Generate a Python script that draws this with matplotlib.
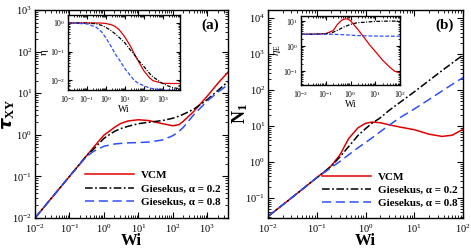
import numpy as np
import matplotlib
matplotlib.use("Agg")
import matplotlib.pyplot as plt
from matplotlib.ticker import LogLocator, NullFormatter

plt.rcParams["font.family"] = ["Liberation Serif", "DejaVu Serif"]
plt.rcParams["mathtext.fontset"] = "custom"
plt.rcParams["mathtext.rm"] = "Liberation Serif"
plt.rcParams["mathtext.it"] = "Liberation Serif:italic"
plt.rcParams["mathtext.bf"] = "Liberation Serif:bold"

# panel (a): shear stress
wi_a = [0.01, 0.1, 0.3, 0.5, 1, 1.5, 2, 3, 5, 10, 20, 50, 100, 150, 200, 400, 1000, 2000, 4000]
tau_vcm = [0.01, 0.1, 0.3, 0.5, 0.98, 1.25, 1.5, 1.85, 2.15, 2.3, 2.2, 1.85, 1.65, 1.75, 2.1, 3.6, 8.5, 17, 32]
tau_g02 = [0.01, 0.1, 0.3, 0.45, 0.82, 1.03, 1.2, 1.4, 1.6, 1.85, 2.0, 2.2, 2.5, 2.8, 3.1, 4.1, 7, 11.5, 19]
tau_g08 = [0.01, 0.1, 0.29, 0.4, 0.53, 0.57, 0.6, 0.62, 0.64, 0.65, 0.67, 0.75, 0.95, 1.2, 1.5, 3.0, 6.5, 10.5, 16]

# inset (a): shear viscosity
wi_ia = [0.01, 0.1, 0.3, 0.6, 1, 2, 3, 5, 10, 20, 30, 50, 100, 200, 300, 1000, 3000, 8000]
eta_vcm = [1, 1, 1, 0.99, 0.96, 0.86, 0.76, 0.58, 0.32, 0.15, 0.088, 0.047, 0.021, 0.012, 0.0095, 0.0077, 0.0076, 0.0076]
eta_g02 = [1, 0.99, 0.94, 0.82, 0.7, 0.52, 0.42, 0.31, 0.2, 0.11, 0.08, 0.05, 0.03, 0.017, 0.013, 0.0075, 0.0055, 0.005]
eta_g08 = [1, 0.93, 0.72, 0.48, 0.3, 0.14, 0.085, 0.052, 0.025, 0.014, 0.01, 0.0078, 0.0063, 0.0053, 0.005, 0.0045, 0.0044, 0.0044]

# panel (b): first normal stress difference
wi_b = [0.01, 0.03, 0.1, 0.15, 0.2, 0.3, 0.45, 0.7, 1, 1.35, 2, 3, 5, 10, 20, 37, 60, 100]
n1_vcm = [0.031, 0.1, 0.37, 0.57, 0.8, 1.6, 4.5, 9, 12, 13, 12.5, 11, 9.5, 8, 6, 5.2, 5.6, 8.2]
n1_g02 = [0.031, 0.1, 0.37, 0.56, 0.78, 1.4, 2.7, 5.5, 8.5, 12, 17, 27, 45, 90, 185, 350, 570, 950]
n1_g08 = [0.031, 0.1, 0.37, 0.54, 0.72, 1.05, 1.6, 2.5, 3.5, 4.7, 7, 10.5, 17, 30, 55, 95, 145, 225]

# inset (b): extensional viscosity
wi_ib = [0.01, 0.03, 0.1, 0.2, 0.3, 0.45, 0.6, 0.8, 1, 1.5, 2, 4, 6, 10, 20, 40, 60, 100]
etae_vcm = [3.0, 3.0, 3.15, 4.2, 7.5, 11, 12.3, 12, 10.3, 6.5, 4.6, 1.9, 1.1, 0.62, 0.27, 0.14, 0.1, 0.085]
etae_g02 = [3.0, 3.0, 3.1, 3.6, 4.3, 5.3, 6.1, 6.8, 7.4, 8.2, 8.7, 9.0, 9.4, 9.7, 9.9, 10, 10, 10]
etae_g08 = [3.0, 3.0, 3.0, 2.97, 2.93, 2.88, 2.83, 2.78, 2.74, 2.68, 2.64, 2.58, 2.55, 2.53, 2.51, 2.5, 2.5, 2.5]

labels = ["VCM", "Giesekus, α = 0.2", "Giesekus, α = 0.8"]
RED = "#e00000"
BLUE = "#2f4fff"


def log_axes(ax, fs, major_len, minor_len):
    ax.set_xscale("log")
    ax.set_yscale("log")
    for axis in (ax.xaxis, ax.yaxis):
        axis.set_major_locator(LogLocator(base=10, numticks=30))
        axis.set_minor_locator(LogLocator(base=10, subs=np.arange(2, 10), numticks=30))
        axis.set_minor_formatter(NullFormatter())
    ax.tick_params(which="both", direction="in", top=True, right=True, labelsize=fs, pad=2)
    ax.tick_params(axis="x", which="both", pad=3)
    ax.tick_params(which="major", length=major_len, width=0.8)
    ax.tick_params(which="minor", length=minor_len, width=0.6)
    for s in ax.spines.values():
        s.set_linewidth(1.0)


def draw_three(ax, x, y1, y2, y3, lw, dd, dl, with_labels=True):
    lab = labels if with_labels else [None] * 3
    ax.plot(x, y1, color=RED, lw=lw, label=lab[0])
    ax.plot(x, y2, color="black", lw=lw, dashes=dd, label=lab[1])
    ax.plot(x, y3, color=BLUE, lw=lw, dashes=dl, label=lab[2])


fig = plt.figure(figsize=(4.71, 2.49), dpi=100)
W, H = 471.0, 249.0


def px_axes(x0, y0, x1, y1):
    return fig.add_axes([x0 / W, 1 - y1 / H, (x1 - x0) / W, (y1 - y0) / H])


main_dd = (5, 1.6, 1.2, 1.6)
main_dl = (6, 3)
ins_dd = (3, 1.2, 0.8, 1.2)
ins_dl = (3, 1.5)
leg_kw = dict(loc="upper left", frameon=False, prop={"weight": "bold", "size": 8},
              handlelength=4.4, handletextpad=0.6, labelspacing=0.3,
              borderpad=0, borderaxespad=0)

# ---- panel (a)
ax_a = px_axes(35, 10, 228, 218)
draw_three(ax_a, wi_a, tau_vcm, tau_g02, tau_g08, 1.1, main_dd, main_dl)
ax_a.set_xlim(1e-2, 4e3)
ax_a.set_ylim(1e-2, 1e3)
log_axes(ax_a, 7.5, 4.5, 2.5)
ax_a.set_xlabel("Wi", fontsize=12, fontweight="bold", labelpad=-1)
ax_a.set_ylabel(r"$\boldsymbol{\tau}_{\mathbf{XY}}$", fontsize=13)
ax_a.yaxis.set_label_coords(-0.092, 0.5)
ax_a.text(0.907, 0.928, "(a)", transform=ax_a.transAxes, ha="center", va="center",
          fontsize=11, fontweight="bold")
ax_a.legend(bbox_to_anchor=(0.259, 0.228), **leg_kw)

ins_a = px_axes(68, 15, 180, 90)
draw_three(ins_a, wi_ia, eta_vcm, eta_g02, eta_g08, 0.9, ins_dd, ins_dl, with_labels=False)
ins_a.set_xlim(1e-2, 8e3)
ins_a.set_ylim(4.5e-3, 1.9)
log_axes(ins_a, 5.5, 3, 1.5)
ins_a.set_xlabel("Wi", fontsize=7, labelpad=0)
ins_a.set_ylabel("η", fontsize=8, labelpad=1)

# ---- panel (b)
ax_b = px_axes(268, 10, 463, 218)
draw_three(ax_b, wi_b, n1_vcm, n1_g02, n1_g08, 1.1, main_dd, main_dl)
ax_b.set_xlim(1e-2, 1e2)
ax_b.set_ylim(2.8e-2, 1.7e4)
log_axes(ax_b, 7.5, 4.5, 2.5)
ax_b.set_xlabel("Wi", fontsize=12, fontweight="bold", labelpad=-1)
ax_b.set_ylabel(r"$\mathbf{N_1}$", fontsize=13)
ax_b.yaxis.set_label_coords(-0.092, 0.5)
ax_b.text(0.908, 0.928, "(b)", transform=ax_b.transAxes, ha="center", va="center",
          fontsize=11, fontweight="bold")
ax_b.legend(bbox_to_anchor=(0.277, 0.222), **leg_kw)

ins_b = px_axes(301, 16, 400, 85)
draw_three(ins_b, wi_ib, etae_vcm, etae_g02, etae_g08, 0.9, ins_dd, ins_dl, with_labels=False)
ins_b.set_xlim(1e-2, 1e2)
ins_b.set_ylim(2.8e-2, 16)
log_axes(ins_b, 5.5, 3, 1.5)
ins_b.set_xlabel("Wi", fontsize=7, labelpad=0)
ins_b.set_ylabel(r"$\eta_{\rm E}$", fontsize=8, labelpad=0)

fig.savefig("out.png", dpi=100)
